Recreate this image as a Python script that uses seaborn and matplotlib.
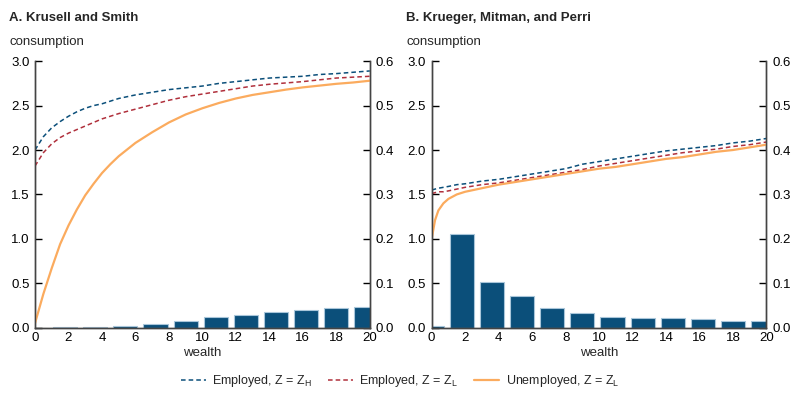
import matplotlib
matplotlib.use("Agg")
import matplotlib.pyplot as plt
import seaborn as sns
import pandas as pd

# ---- data ----
# Panel A: Krusell and Smith
ks_w_line = [0, 0.5, 1, 1.5, 2, 2.5, 3, 3.5, 4, 4.5, 5, 6, 7, 8, 9, 10, 11, 12, 13, 14,
             15, 16, 17, 18, 19, 20]
ks_emp_high = [2.00, 2.15, 2.25, 2.32, 2.38, 2.43, 2.47, 2.50, 2.52, 2.55, 2.58, 2.62, 2.65,
               2.68, 2.70, 2.72, 2.75, 2.77, 2.79, 2.81, 2.82, 2.83, 2.85, 2.86, 2.875, 2.89]
ks_emp_low = [1.82, 1.97, 2.07, 2.14, 2.19, 2.23, 2.27, 2.31, 2.35, 2.38, 2.41, 2.46, 2.51,
              2.56, 2.60, 2.63, 2.66, 2.69, 2.72, 2.74, 2.755, 2.77, 2.79, 2.81, 2.82, 2.83]
ks_unemp_low = [0.05, 0.38, 0.67, 0.94, 1.15, 1.33, 1.49, 1.62, 1.74, 1.84, 1.93, 2.08, 2.20,
                2.31, 2.40, 2.47, 2.53, 2.58, 2.62, 2.65, 2.68, 2.705, 2.725, 2.745, 2.76, 2.78]
ks_bar_w = [0, 1.8, 3.6, 5.4, 7.2, 9.0, 10.8, 12.6, 14.4, 16.2, 18.0, 19.8]
ks_density = [0.0, 0.0005, 0.001, 0.003, 0.008, 0.015, 0.023, 0.029, 0.036, 0.040, 0.0435, 0.046]

# Panel B: Krueger, Mitman, and Perri
kmp_w_line = [0, 0.2, 0.4, 0.7, 1, 1.5, 2, 3, 4, 5, 6, 7, 8, 9, 10, 11, 12, 13, 14, 15, 16,
              17, 18, 19, 20]
kmp_emp_high = [1.55, 1.56, 1.57, 1.58, 1.59, 1.61, 1.62, 1.65, 1.67, 1.70, 1.73, 1.76, 1.79,
                1.84, 1.87, 1.90, 1.93, 1.96, 1.99, 2.01, 2.03, 2.05, 2.08, 2.10, 2.13]
kmp_emp_low = [1.51, 1.52, 1.53, 1.53, 1.54, 1.56, 1.58, 1.61, 1.63, 1.66, 1.69, 1.72, 1.75,
               1.78, 1.82, 1.85, 1.88, 1.91, 1.94, 1.97, 1.99, 2.01, 2.04, 2.06, 2.09]
kmp_unemp_low = [1.00, 1.21, 1.32, 1.40, 1.45, 1.50, 1.53, 1.57, 1.61, 1.64, 1.67, 1.70, 1.73,
                 1.76, 1.79, 1.81, 1.84, 1.87, 1.90, 1.92, 1.95, 1.98, 2.00, 2.03, 2.06]
kmp_bar_w = [0, 1.8, 3.6, 5.4, 7.2, 9.0, 10.8, 12.6, 14.4, 16.2, 18.0, 19.8]
kmp_density = [0.0045, 0.210, 0.103, 0.0705, 0.0435, 0.032, 0.0248, 0.0225, 0.0218, 0.0195,
               0.0158, 0.0158]

titles = ["A. Krusell and Smith", "B. Krueger, Mitman, and Perri"]
labels = ["Employed, Z = Z$_\\mathregular{H}$", "Employed, Z = Z$_\\mathregular{L}$",
          "Unemployed, Z = Z$_\\mathregular{L}$"]

BLUE = "#0b4f7a"
RED = "#b0303c"
ORANGE = "#fbab5e"

sns.set_theme(style="white")
plt.rcParams["font.family"] = ["Liberation Sans", "DejaVu Sans"]
plt.rcParams["mathtext.fontset"] = "custom"
plt.rcParams["mathtext.rm"] = "Liberation Sans"

fig = plt.figure(figsize=(8, 3.99), dpi=100)

panels = [
    (ks_w_line, ks_emp_high, ks_emp_low, ks_unemp_low, ks_bar_w, ks_density, 0.04375),
    (kmp_w_line, kmp_emp_high, kmp_emp_low, kmp_unemp_low, kmp_bar_w, kmp_density, 0.5396),
]

for i, (w, eh, el, ul, bw, dens, left) in enumerate(panels):
    ax = fig.add_axes([left, 0.1787, 0.4185, 0.668])
    ax2 = ax.twinx()

    bars = pd.DataFrame({"wealth": bw, "density": dens})
    sns.barplot(data=bars, x="wealth", y="density", native_scale=True, ax=ax2,
                color=BLUE, saturation=1, width=0.8, edgecolor="#a9c6da", linewidth=0.8)

    sns.lineplot(x=w, y=eh, ax=ax, color=BLUE, lw=1.1, linestyle=(0, (3, 2)), label=labels[0])
    sns.lineplot(x=w, y=el, ax=ax, color=RED, lw=1.1, linestyle=(0, (3, 2)), label=labels[1])
    sns.lineplot(x=w, y=ul, ax=ax, color=ORANGE, lw=1.6, label=labels[2])

    # lines above the bars
    ax.set_zorder(ax2.get_zorder() + 1)
    ax.patch.set_visible(False)

    for a in (ax, ax2):
        a.set_xlim(0, 20)
        a.spines["top"].set_visible(False)
        for s in ("left", "right", "bottom"):
            a.spines[s].set_color("#444444")
            a.spines[s].set_linewidth(1.0)
        a.tick_params(direction="in", length=5, width=1, colors="black", labelsize=9.5)
        a.grid(False)

    ax.set_ylim(0, 3)
    ax.set_yticks([0, 0.5, 1.0, 1.5, 2.0, 2.5, 3.0])
    ax.set_yticklabels([f"{v:.1f}" for v in [0, 0.5, 1.0, 1.5, 2.0, 2.5, 3.0]])
    ax.set_xticks(range(0, 21, 2))
    ax.set_xlabel("wealth", fontsize=9.5, labelpad=2)
    ax.set_ylabel("")
    ax.tick_params(axis="x", pad=3)
    ax.tick_params(axis="y", pad=4)

    ax2.set_ylim(0, 0.6)
    ax2.set_yticks([0, 0.1, 0.2, 0.3, 0.4, 0.5, 0.6])
    ax2.set_yticklabels([f"{v:.1f}" for v in [0, 0.1, 0.2, 0.3, 0.4, 0.5, 0.6]])
    ax2.set_xlabel("")
    ax2.set_ylabel("")
    ax2.tick_params(axis="y", pad=4)

    handles, lbls = ax.get_legend_handles_labels()
    ax.get_legend().remove()

    fig.text(left - 0.032, 0.955, titles[i], fontsize=9.5, fontweight="bold", va="center")
    fig.text(left - 0.032, 0.895, "consumption", fontsize=9.5, va="center")

fig.legend(handles, lbls, loc="center", bbox_to_anchor=(0.5, 0.045), ncol=3, frameon=False,
           fontsize=9, handlelength=2.0, columnspacing=1.3, handletextpad=0.5)

fig.savefig("out.png", dpi=100)
